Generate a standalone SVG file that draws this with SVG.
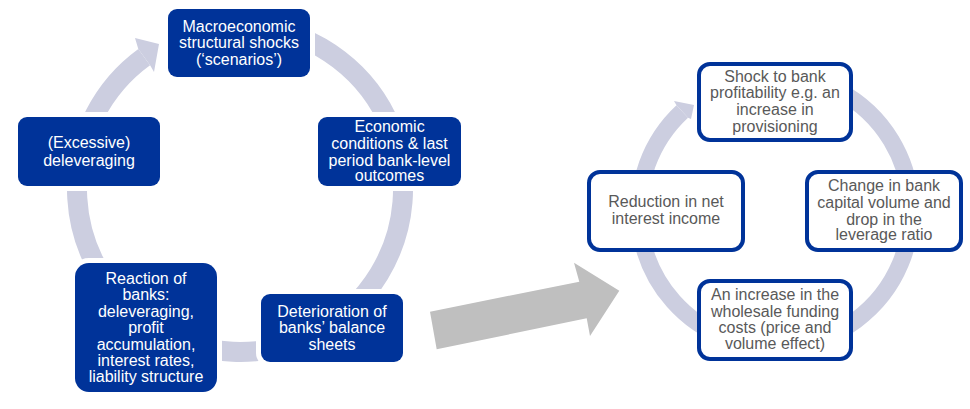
<svg xmlns="http://www.w3.org/2000/svg" width="970" height="409" viewBox="0 0 970 409">
<style>
  .ring{fill:none;stroke:#CCCEE0;stroke-linecap:butt}
  .head{fill:#CCCEE0}
  .bb{fill:#003399;stroke:#ffffff;stroke-width:10;paint-order:stroke}
  .wb{fill:#ffffff;stroke:#003399;stroke-width:4}
  .tw{font-family:"Liberation Sans",Arial,sans-serif;font-size:16px;fill:#ffffff;text-anchor:middle}
  .tg{font-family:"Liberation Sans",Arial,sans-serif;font-size:16px;fill:#595959;text-anchor:middle}
</style>
<rect width="970" height="409" fill="#ffffff"/>
<g id="connectors">
  <path class="ring" stroke-width="20" d="M184.25,35.8 A163,163 0 1 1 144.2,57.1"/>
  <polygon class="head" points="138.3,49 135,38 159,44 154,72 150.1,65.2"/>
  <path class="ring" stroke-width="17" d="M707,93.2 A136,136 0 1 1 682.25,111.5"/>
  <polygon class="head" points="676.5,105.3 674,101 694,105 691,119 688,117.75"/>
  <polygon id="big-arrow" fill="#BFBFBF" points="430,311.7 579.3,281.7 574,262.7 619.3,290.7 590,336 586.7,318.3 436.7,349.3"/>
</g>
<g id="macro">
  <rect class="bb" x="168" y="9" width="142" height="68" rx="9"/>
  <text class="tw"><tspan x="239" y="31.5">Macroeconomic</tspan><tspan x="239" y="48">structural shocks</tspan><tspan x="239" y="64.5">(‘scenarios’)</tspan></text>
</g>
<g id="economic">
  <rect class="bb" x="318" y="117" width="143" height="69" rx="9"/>
  <text class="tw"><tspan x="389.5" y="132">Economic</tspan><tspan x="389.5" y="149">conditions &amp; last</tspan><tspan x="389.5" y="165.5">period bank-level</tspan><tspan x="389.5" y="181">outcomes</tspan></text>
</g>
<g id="deterioration">
  <rect class="bb" x="261" y="294" width="142" height="68" rx="9"/>
  <text class="tw"><tspan x="332" y="317">Deterioration of</tspan><tspan x="332" y="333">banks’ balance</tspan><tspan x="332" y="350">sheets</tspan></text>
</g>
<g id="reaction">
  <rect class="bb" x="75" y="263" width="142" height="129" rx="14"/>
  <text class="tw"><tspan x="146" y="284">Reaction of</tspan><tspan x="146" y="300">banks:</tspan><tspan x="146" y="317">deleveraging,</tspan><tspan x="146" y="333">profit</tspan><tspan x="146" y="350">accumulation,</tspan><tspan x="146" y="366">interest rates,</tspan><tspan x="146" y="382">liability structure</tspan></text>
</g>
<g id="excessive">
  <rect class="bb" x="18" y="117" width="142" height="69" rx="9"/>
  <text class="tw"><tspan x="89" y="148">(Excessive)</tspan><tspan x="89" y="165.5">deleveraging</tspan></text>
</g>
<g id="shock">
  <rect class="wb" x="699" y="64" width="152" height="76" rx="11"/>
  <text class="tg"><tspan x="775" y="81.5">Shock to bank</tspan><tspan x="775" y="98">profitability e.g. an</tspan><tspan x="775" y="115">increase in</tspan><tspan x="775" y="131.5">provisioning</tspan></text>
</g>
<g id="change">
  <rect class="wb" x="807" y="172" width="154" height="78" rx="11"/>
  <text class="tg"><tspan x="884" y="191">Change in bank</tspan><tspan x="884" y="208">capital volume and</tspan><tspan x="884" y="224.5">drop in the</tspan><tspan x="884" y="240">leverage ratio</tspan></text>
</g>
<g id="increase">
  <rect class="wb" x="699" y="281" width="152" height="78" rx="11"/>
  <text class="tg"><tspan x="775" y="300">An increase in the</tspan><tspan x="775" y="317">wholesale funding</tspan><tspan x="775" y="333">costs (price and</tspan><tspan x="775" y="349">volume effect)</tspan></text>
</g>
<g id="reduction">
  <rect class="wb" x="589" y="172" width="154" height="78" rx="11"/>
  <text class="tg"><tspan x="666" y="207">Reduction in net</tspan><tspan x="666" y="224">interest income</tspan></text>
</g>
</svg>
